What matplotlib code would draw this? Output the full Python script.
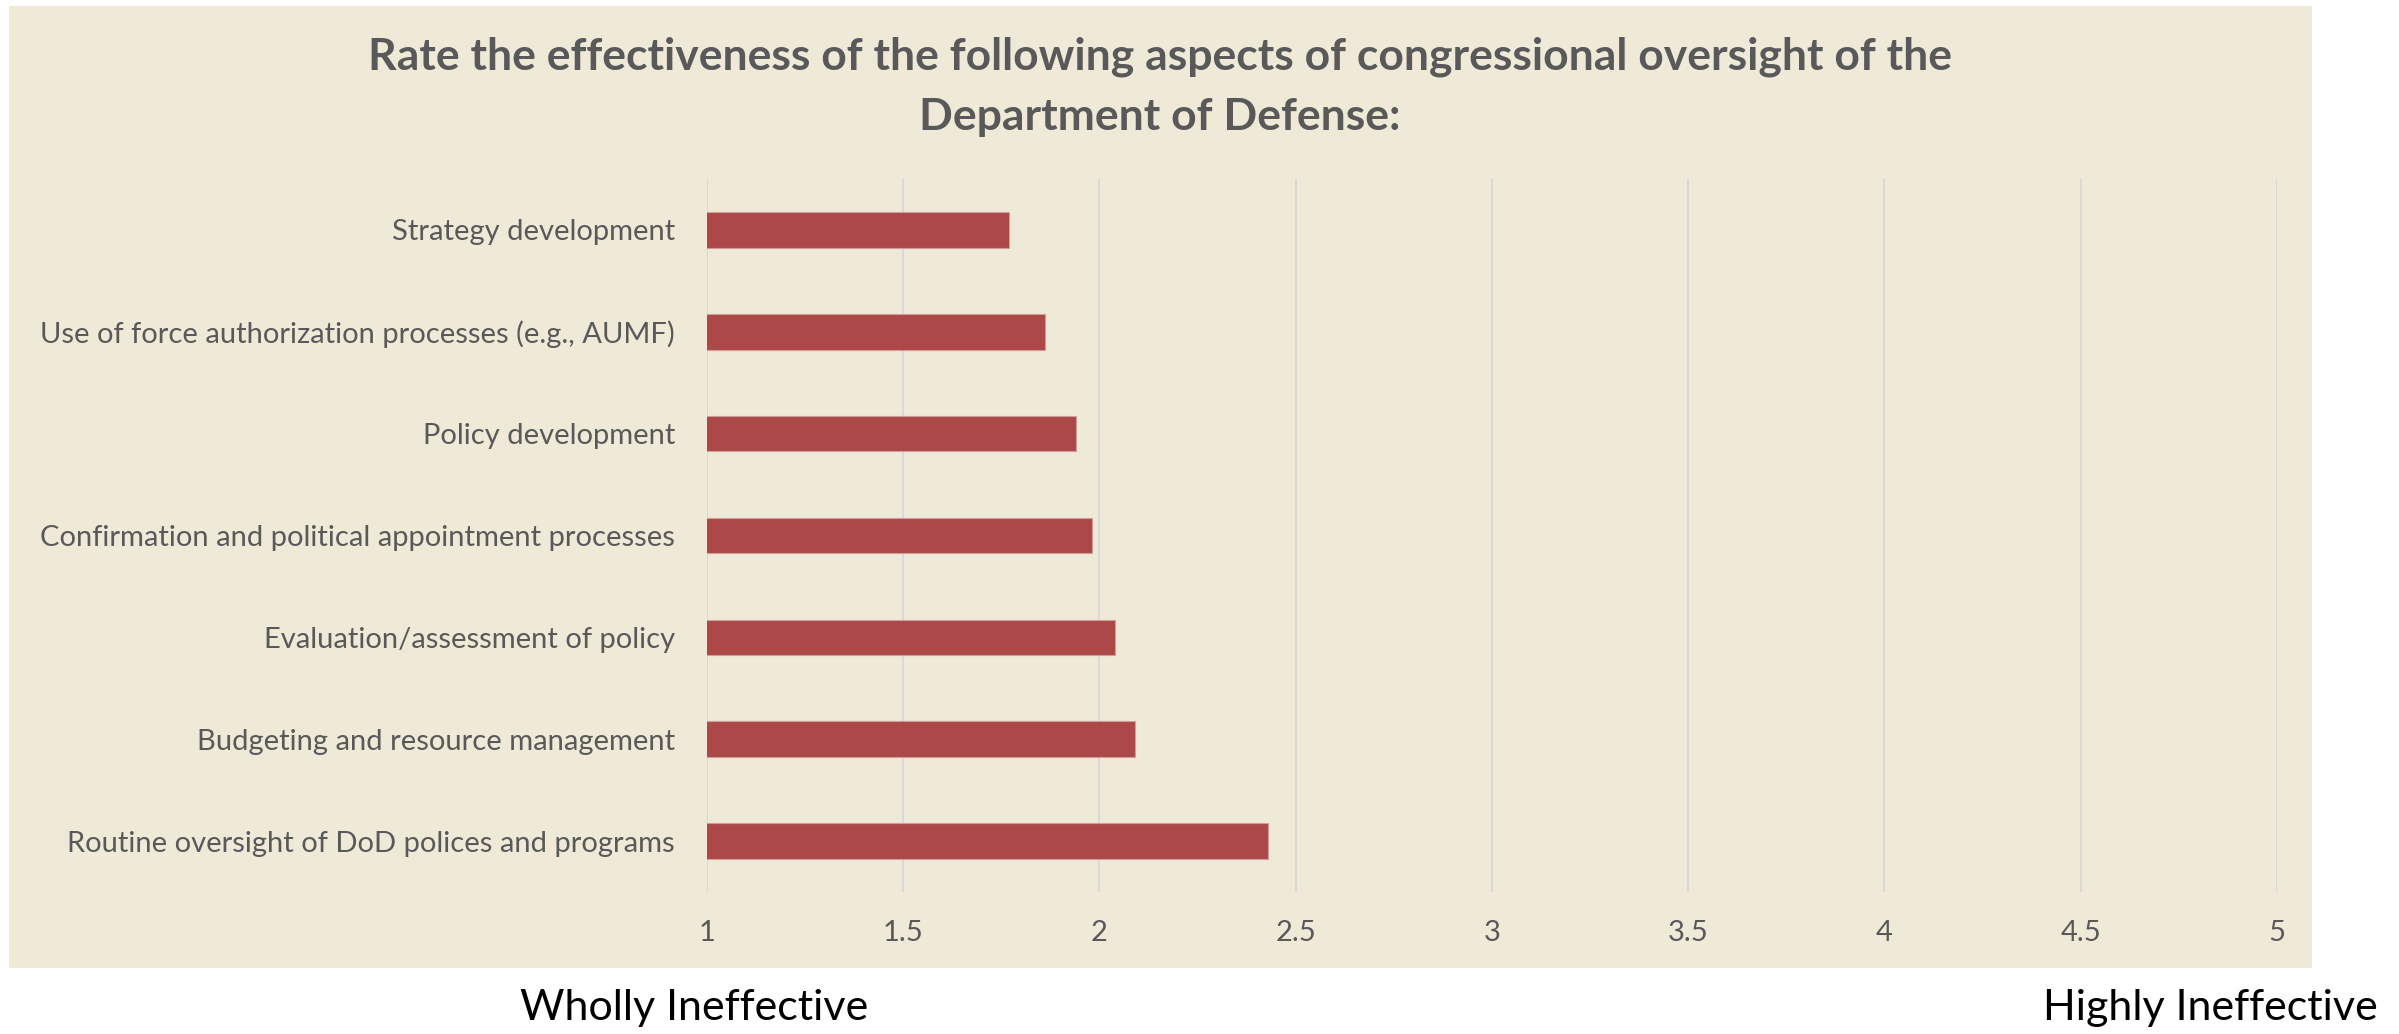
import matplotlib.pyplot as plt
from matplotlib.patches import Rectangle

# ==========================================================
# Data (top to bottom as shown)
# ==========================================================

aspects = [
    "Strategy development",
    "Use of force authorization processes (e.g., AUMF)",
    "Policy development",
    "Confirmation and political appointment processes",
    "Evaluation/assessment of policy",
    "Budgeting and resource management",
    "Routine oversight of DoD polices and programs",
]
scores = [1.77, 1.86, 1.94, 1.98, 2.04, 2.09, 2.43]
xticks = [1, 1.5, 2, 2.5, 3, 3.5, 4, 4.5, 5]
xtick_labels = ["1", "1.5", "2", "2.5", "3", "3.5", "4", "4.5", "5"]

title = ("Rate the effectiveness of the following aspects of congressional oversight of the\n"
         "Department of Defense:")

# ==========================================================
# Style
# ==========================================================

plt.rcParams['font.family'] = ['Lato', 'DejaVu Sans']

panel_color = '#EFEAD8'
bar_color = '#AD4848'
grid_color = '#D9D9D9'
text_color = '#595959'

fig = plt.figure(figsize=(23.99, 10.34), dpi=100)
fig.patch.set_facecolor('white')

# beige chart area, on its own axes behind the plot
bg = fig.add_axes([0, 0, 1, 1], zorder=-1)
bg.axis('off')
bg.add_patch(Rectangle((0.00375, 0.0638), 0.96, 0.9304,
                       transform=bg.transAxes,
                       facecolor=panel_color, edgecolor='none'))

ax = fig.add_axes([0.2947, 0.1373, 0.6544, 0.6896], zorder=1)
ax.set_facecolor('none')

ax.barh(aspects, scores, height=0.35, left=0,
        color=bar_color, edgecolor='#D39C9C', linewidth=0.8, zorder=3)

ax.set_xlim(1, 5)
ax.set_ylim(len(aspects) - 0.5, -0.5)
ax.set_xticks(xticks)
ax.set_xticklabels(xtick_labels)

ax.grid(axis='x', color=grid_color, linewidth=1.5, zorder=0)
ax.set_axisbelow(True)
for s in ax.spines.values():
    s.set_visible(False)

ax.tick_params(axis='x', length=0, pad=20, labelsize=21, labelcolor=text_color)
ax.tick_params(axis='y', length=0, pad=23, labelsize=21, labelcolor=text_color)

# ==========================================================
# Texts
# ==========================================================

fig.text(0.4835, 0.9159, title, ha='center', va='center',
         fontsize=32, fontweight='bold', color=text_color, linespacing=1.6)

fig.text(0.2168, 0.0135, "Wholly Ineffective", ha='left', va='baseline',
         fontsize=31, color='black')
fig.text(0.9912, 0.0135, "Highly Ineffective", ha='right', va='baseline',
         fontsize=31, color='black')

fig.savefig('out.png', dpi=100)
